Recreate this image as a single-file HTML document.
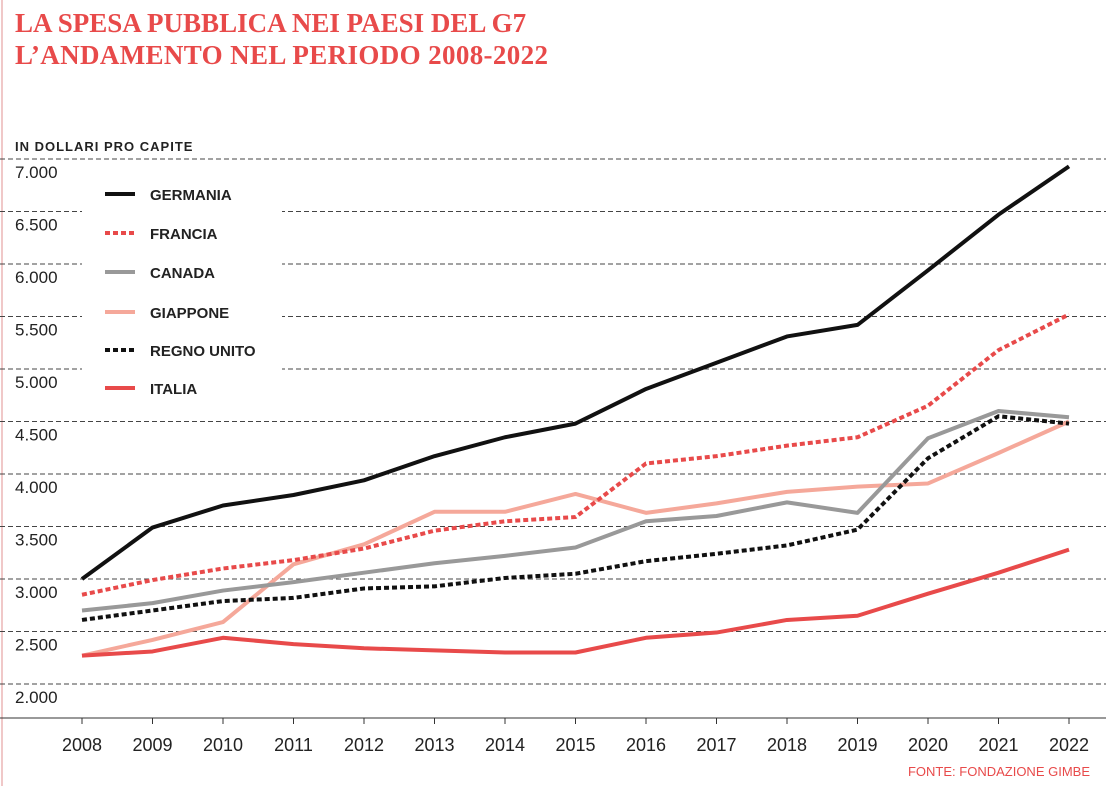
<!DOCTYPE html>
<html><head><meta charset="utf-8"><style>
body{margin:0;background:#fff;width:1106px;height:786px;overflow:hidden;font-family:"Liberation Sans",sans-serif}
</style></head><body>
<svg width="1106" height="786">
<line x1="2" y1="0" x2="2" y2="786" stroke="#f0c8c8" stroke-width="2"/>
<text x="15" y="32" font-family="Liberation Serif,serif" font-weight="bold" font-size="27" fill="#e84a4a">LA SPESA PUBBLICA NEI PAESI DEL G7</text>
<text x="15" y="64" font-family="Liberation Serif,serif" font-weight="bold" font-size="27" fill="#e84a4a" textLength="533">L’ANDAMENTO NEL PERIODO 2008-2022</text>
<text x="15" y="151" font-size="13" font-weight="bold" letter-spacing="1" fill="#222">IN DOLLARI PRO CAPITE</text>
<g id="grid"></g>
<rect x="82" y="184" width="200" height="216" fill="#fff"/>
<g id="series"></g>
<g id="legend"></g>
<line x1="0" y1="718" x2="1106" y2="718" stroke="#333" stroke-width="1"/>
<g id="xaxis"></g>
<text x="1090" y="776" text-anchor="end" font-size="13" fill="#e84a4a">FONTE: FONDAZIONE GIMBE</text>
</svg>
<script>
const years=[2008,2009,2010,2011,2012,2013,2014,2015,2016,2017,2018,2019,2020,2021,2022];
const yTicks=[2000,2500,3000,3500,4000,4500,5000,5500,6000,6500,7000];
const yTickLabels=["2.000","2.500","3.000","3.500","4.000","4.500","5.000","5.500","6.000","6.500","7.000"];
const germania=[3000,3490,3700,3800,3940,4170,4350,4480,4810,5060,5310,5420,5940,6470,6930];
const francia=[2850,2990,3100,3180,3290,3460,3550,3590,4100,4170,4270,4350,4650,5180,5520];
const canada=[2700,2770,2890,2970,3060,3150,3220,3300,3550,3600,3730,3630,4340,4600,4540];
const giappone=[2270,2420,2590,3140,3330,3640,3640,3810,3630,3720,3830,3880,3910,4200,4500];
const regnoUnito=[2610,2700,2790,2820,2910,2930,3010,3050,3170,3240,3320,3470,4150,4550,4480];
const italia=[2270,2310,2440,2380,2340,2320,2300,2300,2440,2490,2610,2650,2860,3060,3280];
const seriesNames=["GERMANIA","FRANCIA","CANADA","GIAPPONE","REGNO UNITO","ITALIA"];
const NS="http://www.w3.org/2000/svg";
const xS=i=>82+i*(1069-82)/(years.length-1);
const yS=v=>684-(v-2000)*(684-159)/5000;
function mk(tag,attrs,parent){const e=document.createElementNS(NS,tag);for(const k in attrs)e.setAttribute(k,attrs[k]);parent.appendChild(e);return e;}
const grid=document.getElementById('grid');
yTicks.forEach((t,i)=>{
 const l=mk('line',{x1:0,x2:1106,y1:yS(t),y2:yS(t),stroke:'#444','stroke-width':1,'stroke-dasharray':'5,3'},grid);
 
 
 const tx=mk('text',{x:15,y:yS(t)+19,'font-size':17,fill:'#222'},grid);
 tx.textContent=yTickLabels[i];
 
 
});
const xa=document.getElementById('xaxis');
years.forEach((y,i)=>{
 const tk=mk('line',{x1:xS(i),x2:xS(i),y1:718,y2:724,stroke:'#333'},xa);
 
 
 const t=mk('text',{x:xS(i),y:751,'text-anchor':'middle','font-size':18,fill:'#222'},xa);
 t.textContent=y;
 
 
});
const styles=[
 {d:germania,c:'#111',dash:null},
 {d:francia,c:'#e84a4a',dash:'5,3'},
 {d:canada,c:'#999',dash:null},
 {d:giappone,c:'#f5a89a',dash:null},
 {d:regnoUnito,c:'#111',dash:'5,3'},
 {d:italia,c:'#e84a4a',dash:null}];
const sg=document.getElementById('series'),lg=document.getElementById('legend');
const legY=[194,233,272,312,350,388];
const order=[3,2,1,4,5,0];
order.forEach(k=>{
 const s=styles[k];
 const p=mk('polyline',{points:s.d.map((v,i)=>xS(i)+','+yS(v)).join(' '),fill:'none',stroke:s.c,'stroke-width':4,'stroke-linejoin':'round'},sg);
 if(s.dash)p.setAttribute('stroke-dasharray',s.dash);
 
 
});
styles.forEach((s,k)=>{
 const l=mk('line',{x1:105,x2:135,y1:legY[k],y2:legY[k],stroke:s.c,'stroke-width':4},lg);
 if(s.dash)l.setAttribute('stroke-dasharray',s.dash);
 
 
 const t=mk('text',{x:150,y:legY[k]+6,'font-size':15,'font-weight':'bold',fill:'#222'},lg);
 t.textContent=seriesNames[k];
 
 
});
</script>
</body></html>
